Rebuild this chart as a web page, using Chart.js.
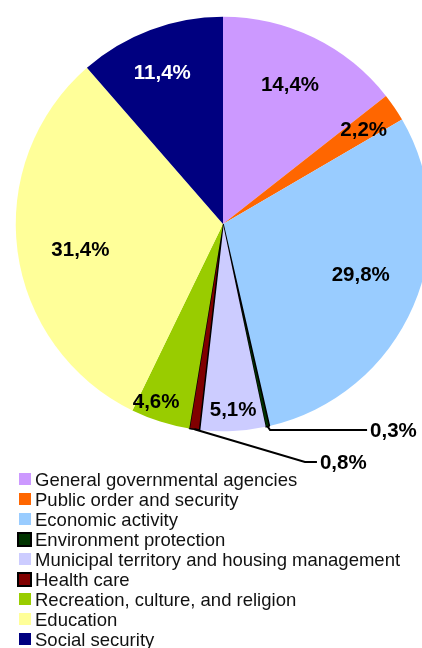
<!DOCTYPE html>
<html lang="en">
<head>
    <meta charset="UTF-8">
    <title>Expenditure structure</title>
    <script src="https://cdn.jsdelivr.net/npm/chart.js"></script>
    <style>
        body { margin: 0; width: 422px; height: 648px; overflow: hidden; background: #fff; position: relative; }
        #pieBox { position: absolute; left: 0; top: 0; width: 446px; height: 480px; }
        #legend { position: absolute; left: 0; top: 470px; font: 18.5px "Liberation Sans", Arial, sans-serif; line-height: 20px; color: #111; white-space: nowrap; }
        #legend div { position: relative; padding-left: 35px; height: 20px; }
        #legend span { position: absolute; left: 19px; top: 3px; width: 12px; height: 12px; box-sizing: border-box; }
    </style>
</head>
<body>
    <div id="pieBox"><canvas id="pieChart" width="446" height="480"></canvas></div>
    <div id="legend"></div>

    <script>
        // data (percent)
        var categories = [
            'General governmental agencies',
            'Public order and security',
            'Economic activity',
            'Environment protection',
            'Municipal territory and housing management',
            'Health care',
            'Recreation, culture, and religion',
            'Education',
            'Social security'
        ];
        var shares = [14.4, 2.2, 29.8, 0.3, 5.1, 0.8, 4.6, 31.4, 11.4];
        var colors = ['#CC99FF', '#FF6600', '#99CCFF', '#003300', '#CCCCFF', '#800000', '#99CC00', '#FFFF99', '#000080'];
        var outlined = [false, false, false, true, false, true, false, false, false];

        // where each value label sits: r = fraction of radius, da = degrees nudge; leader = outside label
        var labelPlaces = [
            { r: 0.745, da: -0.2 },
            { r: 0.816, da: 0.5 },
            { r: 0.71, da: -2.8 },
            { leader: [[2.5, 3.6], [99.5, 3.6]], gap: 3 },
            { r: 0.90, da: -0.4 },
            { leader: [[110.5, 32.7], [122.5, 32.7]], gap: 3 },
            { r: 0.92, da: 2.9 },
            { r: 0.70, da: -3.1 },
            { r: 0.785, da: -1.4, color: '#fff' }
        ];

        var sliceLabels = {
            id: 'sliceLabels',
            afterDatasetsDraw: function(chart) {
                var ctx = chart.ctx;
                var meta = chart.getDatasetMeta(0);
                ctx.save();
                ctx.font = 'bold 20.5px "Liberation Sans", Arial, sans-serif';
                ctx.textBaseline = 'middle';
                meta.data.forEach(function(arc, i) {
                    var p = arc.getProps(['x', 'y', 'startAngle', 'endAngle', 'outerRadius'], true);
                    var mid = (p.startAngle + p.endAngle) / 2;
                    var text = shares[i].toFixed(1).replace('.', ',') + '%';
                    var pl = labelPlaces[i];
                    if (pl.leader) {
                        var ax = p.x + Math.cos(mid) * p.outerRadius;
                        var ay = p.y + Math.sin(mid) * p.outerRadius;
                        ctx.strokeStyle = '#000';
                        ctx.lineWidth = 2;
                        ctx.beginPath();
                        ctx.moveTo(ax, ay);
                        pl.leader.forEach(function(pt) { ctx.lineTo(ax + pt[0], ay + pt[1]); });
                        ctx.stroke();
                        var end = pl.leader[pl.leader.length - 1];
                        ctx.fillStyle = '#000';
                        ctx.textAlign = 'left';
                        ctx.fillText(text, ax + end[0] + pl.gap, ay + end[1] + 1);
                    } else {
                        var a = mid + pl.da * Math.PI / 180;
                        var r = p.outerRadius * pl.r;
                        ctx.fillStyle = pl.color || '#000';
                        ctx.textAlign = 'center';
                        ctx.fillText(text, p.x + Math.cos(a) * r, p.y + Math.sin(a) * r);
                    }
                });
                ctx.restore();
            }
        };

        var pieChart = new Chart(document.getElementById('pieChart').getContext('2d'), {
            type: 'pie',
            data: {
                labels: categories,
                datasets: [{
                    data: shares,
                    backgroundColor: colors,
                    borderColor: outlined.map(function(o) { return o ? '#000' : 'rgba(0,0,0,0)'; }),
                    borderWidth: outlined.map(function(o) { return o ? 1.5 : 0; })
                }]
            },
            options: {
                responsive: false,
                animation: false,
                layout: { padding: { left: 15, right: 15, top: 16, bottom: 48 } },
                plugins: {
                    legend: { display: false },
                    tooltip: { enabled: false }
                }
            },
            plugins: [sliceLabels]
        });

        // legend as plain html rows
        var legend = document.getElementById('legend');
        categories.forEach(function(name, i) {
            var row = document.createElement('div');
            var box = document.createElement('span');
            box.style.background = colors[i];
            if (outlined[i]) {
                box.style.border = '2px solid #000';
                box.style.left = '17px';
                box.style.top = '1.5px';
                box.style.width = '15px';
                box.style.height = '15px';
            }
            row.appendChild(box);
            row.appendChild(document.createTextNode(name));
            legend.appendChild(row);
        });
    </script>
</body>
</html>
